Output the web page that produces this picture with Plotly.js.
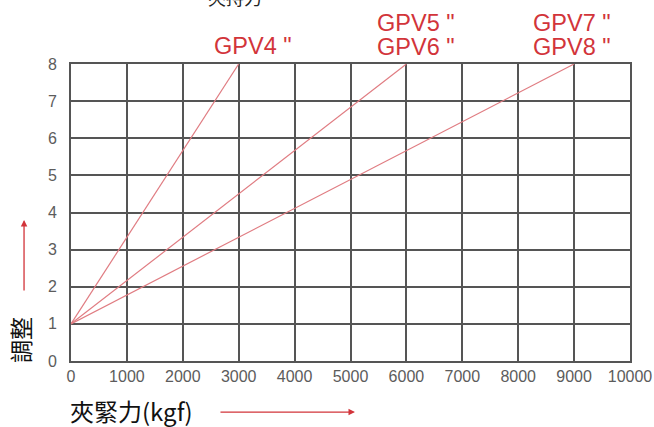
<!DOCTYPE html>
<html>
<head>
<meta charset="utf-8">
<script src="https://cdn.plot.ly/plotly-3.0.1.min.js"></script>
<style>html,body{margin:0;padding:0;background:#fff}#chart{width:654px;height:427px}</style>
</head>
<body>
<div id="chart"></div>
<script>
const seriesNames = ['GPV4', 'GPV5/GPV6', 'GPV7/GPV8'];
const seriesX = [[0, 3000], [0, 6000], [0, 9000]];
const seriesY = [[1, 8], [1, 8], [1, 8]];
const xTicks = [0, 1000, 2000, 3000, 4000, 5000, 6000, 7000, 8000, 9000, 10000];
const yTicks = [0, 1, 2, 3, 4, 5, 6, 7, 8];
const labelTexts = ['GPV4 "', 'GPV5 "', 'GPV6 "', 'GPV7 "', 'GPV8 "'];
const titleText = '夾持力';
const xTitle = '夾緊力(kgf)';
const yTitle = '調整';

const lineColor = '#e07c82';
const red = '#d2343a';
const gridColor = '#555555';
const cjk = '"Noto Sans CJK TC", "Noto Sans CJK SC", sans-serif';
const lat = '"Liberation Sans", Arial, sans-serif';

const traces = seriesNames.map((n, i) => ({
  type: 'scatter', mode: 'lines', name: n,
  x: seriesX[i], y: seriesY[i],
  line: {color: lineColor, width: 1.2},
  hoverinfo: 'skip'
}));

const labelPos = [[0.326, 1.059], [0.617, 1.138], [0.617, 1.057], [0.896, 1.138], [0.896, 1.057]];
const annotations = labelTexts.map((t, i) => ({
  text: t, xref: 'paper', yref: 'paper', x: labelPos[i][0], y: labelPos[i][1],
  xanchor: 'center', yanchor: 'middle', showarrow: false, borderpad: 0,
  font: {family: lat, size: 23.5, color: red}
}));
annotations.push({
  text: titleText, xref: 'paper', yref: 'paper', x: 0.293, y: 1.175,
  xanchor: 'center', yanchor: 'bottom', showarrow: false,
  font: {family: cjk, size: 18, color: '#222'}
});
annotations.push({
  text: xTitle, xref: 'paper', yref: 'paper', x: -0.004, y: -0.168,
  xanchor: 'left', yanchor: 'middle', showarrow: false, borderpad: 0,
  font: {family: cjk, size: 24, color: '#111'}
});
annotations.push({
  text: yTitle, xref: 'paper', yref: 'paper', x: -0.09, y: 0.07,
  xanchor: 'center', yanchor: 'middle', showarrow: false, textangle: -90,
  font: {family: cjk, size: 23, color: '#111'}
});
// x arrow
annotations.push({
  text: '', xref: 'paper', yref: 'paper', x: 0.508, y: -0.172,
  ax: -136, ay: 0, showarrow: true, arrowhead: 2, arrowsize: 1, arrowwidth: 1.3,
  arrowcolor: red
});
// y arrow
annotations.push({
  text: '', xref: 'paper', yref: 'paper', x: -0.084, y: 0.475,
  ax: 0, ay: 72, showarrow: true, arrowhead: 2, arrowsize: 1, arrowwidth: 1.3,
  arrowcolor: red
});

const layout = {
  width: 654, height: 427,
  margin: {l: 71, r: 24, t: 64, b: 66},
  paper_bgcolor: '#fff', plot_bgcolor: '#fff',
  showlegend: false,
  xaxis: {
    range: [0, 10000], tickvals: xTicks, ticktext: xTicks.map(String),
    showgrid: true, gridcolor: gridColor, gridwidth: 2,
    showline: true, linecolor: gridColor, linewidth: 2, mirror: true,
    zeroline: false, ticks: '',
    tickfont: {family: lat, size: 16, color: '#5c5c5c'}
  },
  yaxis: {
    range: [0, 8], tickvals: yTicks, ticktext: yTicks.map(String),
    showgrid: true, gridcolor: gridColor, gridwidth: 2,
    showline: true, linecolor: gridColor, linewidth: 2, mirror: true,
    zeroline: false, ticks: '', ticklabelstandoff: 9,
    tickfont: {family: lat, size: 16, color: '#5c5c5c'}
  },
  annotations: annotations
};

Plotly.newPlot('chart', traces, layout, {staticPlot: true, displayModeBar: false});
</script>
</body>
</html>
